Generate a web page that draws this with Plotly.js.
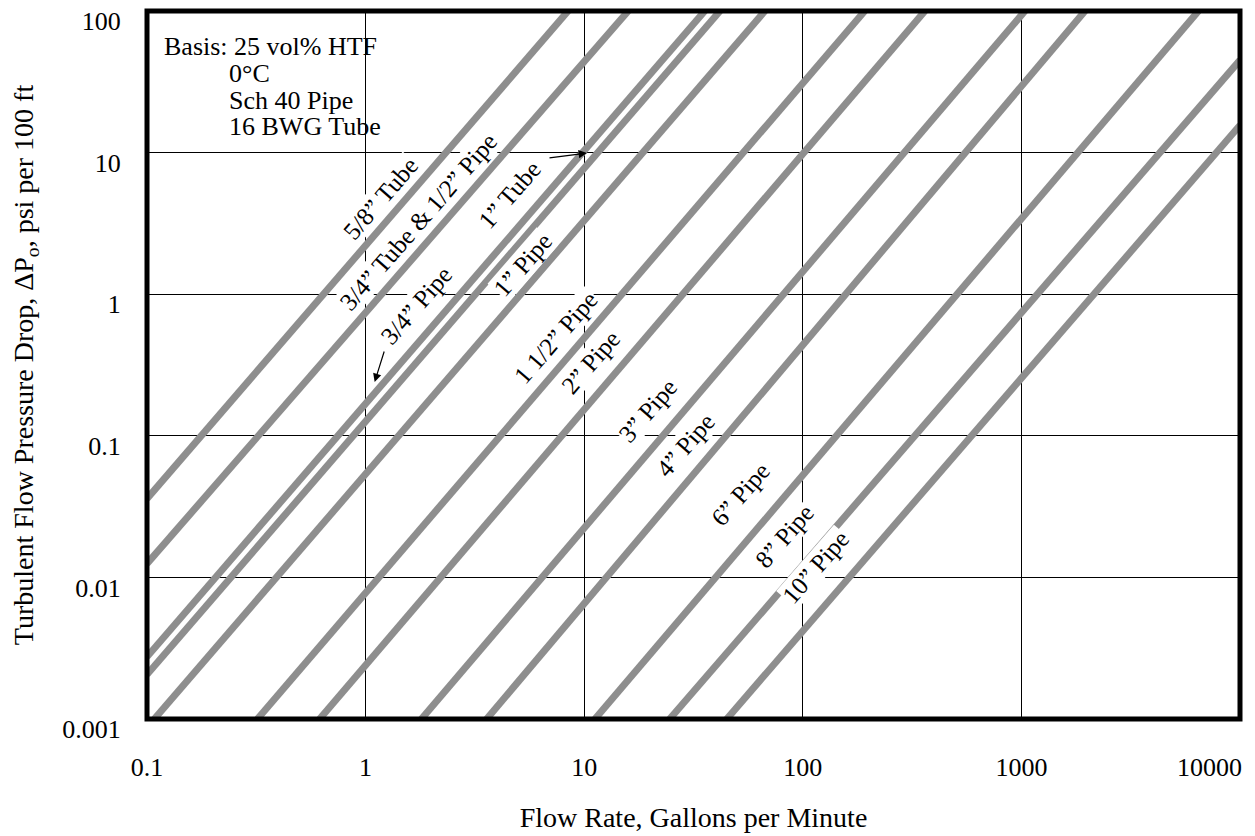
<!DOCTYPE html>
<html>
<head>
<meta charset="utf-8">
<script src="https://cdn.plot.ly/plotly-3.0.1.min.js"></script>
<style>html,body{margin:0;padding:0;background:#fff;}#chart{width:1255px;height:836px;}</style>
</head>
<body>
<div id="chart"></div>
<script>
// ---- data ----
const lineNames = ["5/8” Tube", "3/4” Tube & 1/2” Pipe", "3/4” Pipe", "1” Tube", "1” Pipe",
  "1 1/2” Pipe", "2” Pipe", "3” Pipe", "4” Pipe", "6” Pipe", "8” Pipe", "10” Pipe"];
// each line: start point and end point (flow gpm, pressure drop psi/100ft)
const flowStart = [0.1, 0.1, 0.1, 0.1, 0.108, 0.32, 0.616, 1.80, 3.58, 11.2, 24.6, 44.9];
const dpStart   = [0.036, 0.0125, 0.00275, 0.00206, 0.001, 0.001, 0.001, 0.001, 0.001, 0.001, 0.001, 0.001];
const flowEnd   = [8.44, 15.9, 35.6, 41.8, 67.1, 192, 362, 1038, 1954, 6457, 10000, 10000];
const dpEnd     = [100, 100, 100, 100, 100, 100, 100, 100, 100, 100, 45, 15.6];

// label anchor points (flow, dp)
const labelFlow = [1.17, 1.75, 1.70, 4.58, 5.25, 7.43, 10.7, 19.6, 28.9, 51.6, 82.0, 113.8];
const labelDp   = [4.74, 3.25, 0.839, 5.02, 1.61, 0.491, 0.327, 0.150, 0.0861, 0.0388, 0.0196, 0.01183];
const labelText = ["5/8” Tube", "3/4” Tube & 1/2” Pipe", "3/4” Pipe", "1” Tube", "1” Pipe",
  "1 1/2” Pipe", "2” Pipe", "3” Pipe", "4” Pipe", "6” Pipe", "8” Pipe", "10” Pipe"];

// arrow heads (flow, dp) for 3/4" Pipe and 1" Tube labels
const arrowFlow = [1.10, 10.3];
const arrowDp   = [0.240, 9.93];

const xTickVals = [0.1, 1, 10, 100, 1000, 10000];
const xTickText = ["0.1", "1", "10", "100", "1000", "10000"];
const yTickVals = [0.001, 0.01, 0.1, 1, 10, 100];
const yTickText = ["0.001", "0.01", "0.1", "1", "10", "100"];

const basisLines = ["Basis: 25 vol% HTF", "0°C", "Sch 40 Pipe", "16 BWG Tube"];
const basisFlow = [0.118, 0.2347, 0.2347, 0.2347];
const basisDp = [56.6, 36.2, 23.3, 15.2];

// ---- build ----
const FONT = "Liberation Serif, Times New Roman, serif";
const GRAY = "#8e8e8e";
const L = Math.log10;

const traces = lineNames.map((n, i) => ({
  type: "scatter", mode: "lines", name: n,
  x: [flowStart[i], flowEnd[i]], y: [dpStart[i], dpEnd[i]],
  line: {color: GRAY, width: 7}, showlegend: false, hoverinfo: "skip"
}));

const annotations = [];
labelText.forEach((t, i) => {
  annotations.push({
    x: L(labelFlow[i]), y: L(labelDp[i]), xref: "x", yref: "y",
    text: t, showarrow: false, textangle: -49,
    font: {family: FONT, size: 25, color: "#000"},
    bgcolor: "#fff", borderpad: 0, xanchor: "center", yanchor: "middle"
  });
});
// arrows
annotations.push({x: L(arrowFlow[0]), y: L(arrowDp[0]), xref: "x", yref: "y", text: "",
  showarrow: true, ax: 10, ay: -32, arrowhead: 2, arrowsize: 1.4, arrowwidth: 1.2, arrowcolor: "#000"});
annotations.push({x: L(arrowFlow[1]), y: L(arrowDp[1]), xref: "x", yref: "y", text: "",
  showarrow: true, ax: -39, ay: 5, arrowhead: 2, arrowsize: 1.4, arrowwidth: 1.2, arrowcolor: "#000"});
// basis block
basisLines.forEach((t, i) => {
  annotations.push({x: L(basisFlow[i]), y: L(basisDp[i]), xref: "x", yref: "y", text: t,
    showarrow: false, xanchor: "left", yanchor: "middle", borderpad: 0,
    font: {family: FONT, size: 26, color: "#000"}});
});
// last x tick label sits right-aligned at the plot edge (as in the reference)
const nX = xTickVals.length;
annotations.push({x: L(xTickVals[nX - 1]), y: -0.068, xref: "x", yref: "paper",
  text: xTickText[nX - 1], showarrow: false, xanchor: "right", yanchor: "middle", xshift: 4,
  font: {family: FONT, size: 26, color: "#000"}});

const axisTickText = xTickText.slice(0, nX - 1).concat([""]);

const layout = {
  width: 1255, height: 836,
  margin: {l: 147, r: 15, t: 11, b: 117, pad: 0},
  paper_bgcolor: "#fff", plot_bgcolor: "#fff",
  font: {family: FONT, color: "#000"},
  showlegend: false,
  xaxis: {
    type: "log", range: [-1, 4], tickvals: xTickVals, ticktext: axisTickText,
    showgrid: true, gridcolor: "#000", gridwidth: 1.2, zeroline: false, showline: false,
    ticks: "outside", ticklen: 25, tickcolor: "rgba(0,0,0,0)", ticklabeloverflow: "allow",
    tickfont: {family: FONT, size: 26, color: "#000"},
    title: {text: "Flow Rate, Gallons per Minute", font: {family: FONT, size: 28, color: "#000"}, standoff: 26}
  },
  yaxis: {
    type: "log", range: [-3, 2], tickvals: yTickVals, ticktext: yTickText,
    showgrid: true, gridcolor: "#000", gridwidth: 1.2, zeroline: false, showline: false,
    ticks: "outside", ticklen: 20, tickcolor: "rgba(0,0,0,0)", ticklabelshift: 10, ticklabeloverflow: "allow",
    tickfont: {family: FONT, size: 26, color: "#000"},
    title: {text: "Turbulent Flow Pressure Drop, ΔP<sub>o</sub>, psi per 100 ft", font: {family: FONT, size: 28, color: "#000"}, standoff: 20}
  },
  shapes: [{type: "rect", xref: "paper", yref: "paper", x0: 0, x1: 1, y0: 0, y1: 1,
    line: {color: "#000", width: 5}, fillcolor: "rgba(0,0,0,0)", layer: "above"}],
  annotations: annotations
};

Plotly.newPlot("chart", traces, layout, {staticPlot: true, displayModeBar: false});
</script>
</body>
</html>
